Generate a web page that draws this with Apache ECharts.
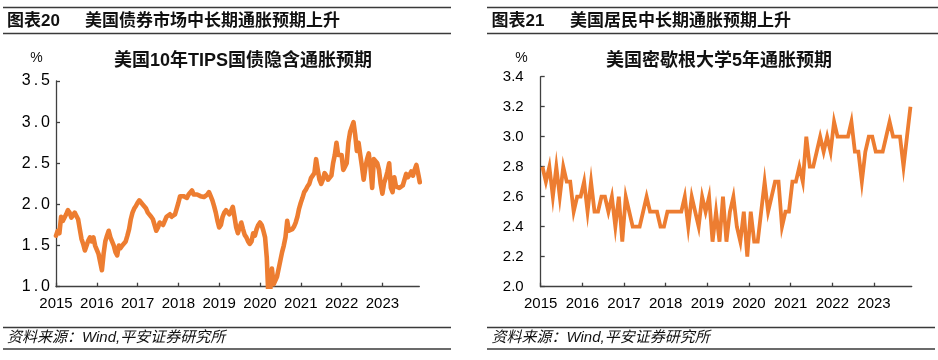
<!DOCTYPE html>
<html><head><meta charset="utf-8">
<script src="https://cdn.jsdelivr.net/npm/echarts@6/dist/echarts.min.js"></script>
<style>html,body{margin:0;padding:0;background:#fff}#c{width:938px;height:360px}</style>
</head><body><div id="c"></div>
<script>
// ---------- data ----------
const years = [2015, 2016, 2017, 2018, 2019, 2020, 2021, 2022, 2023];
const xTickYears = [2015, 2016, 2017, 2018, 2019, 2020, 2021, 2022, 2023];

// 10Y TIPS breakeven (%), two readings per month (1st / 16th)
const tips2015 = [1.62,1.68,1.65,1.85,1.8,1.78,1.88,1.93,1.9,1.84,1.82,1.9,1.88,1.82,1.7,1.58,1.52,1.44,1.5,1.56,1.6,1.55,1.6,1.5];
const tips2016 = [1.52,1.4,1.3,1.2,1.4,1.55,1.62,1.68,1.6,1.58,1.5,1.42,1.38,1.5,1.47,1.5,1.52,1.55,1.62,1.7,1.82,1.9,1.95,1.98];
const tips2017 = [2.02,2.05,2.03,2.0,1.98,1.95,1.9,1.9,1.85,1.82,1.75,1.68,1.72,1.78,1.8,1.75,1.8,1.85,1.85,1.88,1.85,1.86,1.88,1.95];
const tips2018 = [2.02,2.1,2.12,2.1,2.12,2.08,2.12,2.14,2.17,2.12,2.1,2.12,2.11,2.1,2.1,2.09,2.1,2.12,2.15,2.1,2.05,1.98,1.9,1.8];
const tips2019 = [1.72,1.75,1.85,1.9,1.93,1.92,1.88,1.92,1.97,1.85,1.72,1.65,1.72,1.78,1.7,1.63,1.6,1.55,1.52,1.55,1.65,1.62,1.7,1.75];
const tips2020 = [1.78,1.75,1.68,1.6,1.35,0.85,0.95,1.22,1.03,1.05,1.12,1.22,1.32,1.42,1.5,1.6,1.8,1.68,1.67,1.7,1.73,1.78,1.85,1.95];
const tips2021 = [2.02,2.08,2.15,2.18,2.22,2.25,2.32,2.35,2.38,2.55,2.42,2.3,2.25,2.3,2.38,2.35,2.3,2.28,2.35,2.5,2.6,2.75,2.6,2.58];
const tips2022 = [2.6,2.42,2.46,2.5,2.75,2.88,2.94,3.0,2.85,2.65,2.75,2.6,2.46,2.3,2.45,2.55,2.62,2.45,2.2,2.55,2.55,2.5,2.42,2.25];
const tips2023 = [2.13,2.26,2.32,2.4,2.5,2.2,2.15,2.33,2.22,2.2,2.2,2.2,2.23,2.3,2.37,2.33,2.36,2.4,2.35,2.42,2.48,2.38,2.27];

// University of Michigan 5-year inflation expectations (%), monthly
const umich2015 = [2.8,2.7,2.8,2.6,2.8,2.6,2.8,2.7,2.7,2.5,2.6,2.6];
const umich2016 = [2.7,2.5,2.7,2.5,2.5,2.6,2.6,2.5,2.6,2.4,2.6,2.3];
const umich2017 = [2.6,2.5,2.4,2.4,2.4,2.5,2.6,2.5,2.5,2.5,2.4,2.4];
const umich2018 = [2.5,2.5,2.5,2.5,2.5,2.6,2.4,2.6,2.5,2.4,2.6,2.5];
const umich2019 = [2.6,2.3,2.5,2.3,2.6,2.3,2.5,2.6,2.4,2.3,2.5,2.2];
const umich2020 = [2.5,2.3,2.3,2.5,2.7,2.5,2.6,2.7,2.7,2.4,2.5,2.5];
const umich2021 = [2.7,2.7,2.8,2.7,3.0,2.8,2.8,2.9,3.0,2.9,3.0,2.9];
const umich2022 = [3.1,3.0,3.0,3.0,3.0,3.1,2.9,2.9,2.7,2.9,3.0,3.0];
const umich2023 = [2.9,2.9,2.9,3.0,3.1,3.0,3.0,3.0,2.8,3.0,3.2];

const tipsByYear = [tips2015,tips2016,tips2017,tips2018,tips2019,tips2020,tips2021,tips2022,tips2023];
const umichByYear = [umich2015,umich2016,umich2017,umich2018,umich2019,umich2020,umich2021,umich2022,umich2023];

// ---------- build series points (time as decimal year) ----------
function halfMonthPoints(arrs) {
  const out = [];
  arrs.forEach((a, i) => a.forEach((v, k) => out.push([years[i] + k / 24, v])));
  return out;
}
function monthPoints(arrs) {
  const out = [];
  arrs.forEach((a, i) => a.forEach((v, k) => out.push([years[i] + (k + 0.5) / 12, v])));
  return out;
}

const FONT = '"Liberation Sans", "Noto Sans CJK SC", sans-serif';
const AXIS_COLOR = '#404040';
const ORANGE = '#ED7D31';

function xAxisCfg(gi) {
  return {
    type: 'value', gridIndex: gi, min: 2015, max: 2023.905,
    axisLine: { show: true, lineStyle: { color: AXIS_COLOR, width: 1.3 } },
    axisTick: { show: true, inside: true, length: 4, customValues: xTickYears, lineStyle: { color: AXIS_COLOR, width: 1.3 } },
    axisLabel: { customValues: xTickYears, formatter: v => String(Math.round(v)), fontSize: 15, color: '#000', margin: 10, fontFamily: FONT },
    splitLine: { show: false }
  };
}

const chart = echarts.init(document.getElementById('c'), null, { renderer: 'canvas' });

const texts = [
  { t: '图表20', x: 7, y: 21.5, font: 'bold 17px ' + FONT, align: 'left' },
  { t: '美国债券市场中长期通胀预期上升', x: 85, y: 21.5, font: 'bold 17px ' + FONT, align: 'left' },
  { t: '图表21', x: 491.5, y: 21.5, font: 'bold 17px ' + FONT, align: 'left' },
  { t: '美国居民中长期通胀预期上升', x: 570, y: 21.5, font: 'bold 17px ' + FONT, align: 'left' },
  { t: '美国10年TIPS国债隐含通胀预期', x: 243, y: 61.5, font: 'bold 18px ' + FONT, align: 'center' },
  { t: '美国密歇根大学5年通胀预期', x: 719, y: 61.5, font: 'bold 18px ' + FONT, align: 'center' },
  { t: '%', x: 36.5, y: 58, font: '14px ' + FONT, align: 'center' },
  { t: '%', x: 521.5, y: 58, font: '14px ' + FONT, align: 'center' },
  { t: '资料来源：Wind,平安证券研究所', x: 7, y: 338, font: 'italic 15px ' + FONT, align: 'left' },
  { t: '资料来源：Wind,平安证券研究所', x: 491.5, y: 338, font: 'italic 15px ' + FONT, align: 'left' }
];
const lines = [
  [3, 7.5, 451, 7.5], [3, 33.5, 451, 33.5], [3, 327.5, 451, 327.5], [3, 349, 451, 349],
  [487, 7.5, 938, 7.5], [487, 33.5, 938, 33.5], [487, 327.5, 935, 327.5], [487, 349, 935, 349]
];

const graphic = [];
lines.forEach(l => graphic.push({
  type: 'line', silent: true,
  shape: { x1: l[0], y1: l[1], x2: l[2], y2: l[3] },
  style: { stroke: '#3a3a3a', lineWidth: 1.4 }
}));
texts.forEach(t => graphic.push({
  type: 'text', silent: true, x: t.x, y: t.y,
  style: { text: t.t, font: t.font, fill: '#111', textAlign: t.align, textVerticalAlign: 'middle', align: t.align, verticalAlign: 'middle' }
}));

chart.setOption({
  animation: false,
  backgroundColor: '#fff',
  graphic: graphic,
  grid: [
    { left: 56, top: 81, width: 363.3, height: 205.7, containLabel: false },
    { left: 540.7, top: 76.7, width: 371, height: 210, containLabel: false }
  ],
  xAxis: [xAxisCfg(0), xAxisCfg(1)],
  yAxis: [
    {
      type: 'value', gridIndex: 0, min: 1, max: 3.5, interval: 0.5,
      axisLine: { show: true, lineStyle: { color: AXIS_COLOR, width: 1.3 } },
      axisTick: { show: true, inside: true, length: 4, lineStyle: { color: AXIS_COLOR, width: 1.3 } },
      axisLabel: {
        margin: 6, color: '#000', fontSize: 15, fontFamily: FONT,
        formatter: v => { const s = v.toFixed(1); return '{d|' + s[0] + '}{p|.}{d|' + s[2] + '}'; },
        rich: {
          d: { fontSize: 16, fontFamily: FONT, color: '#000' },
          p: { fontSize: 16, fontFamily: FONT, color: '#000', padding: [0, 3, 0, 3] }
        }
      },
      splitLine: { show: false }
    },
    {
      type: 'value', gridIndex: 1, min: 2.0, max: 3.4, interval: 0.2,
      axisLine: { show: true, lineStyle: { color: AXIS_COLOR, width: 1.3 } },
      axisTick: { show: true, inside: true, length: 4, lineStyle: { color: AXIS_COLOR, width: 1.3 } },
      axisLabel: { margin: 17, color: '#000', fontSize: 15, fontFamily: FONT, formatter: v => v.toFixed(1) },
      splitLine: { show: false }
    }
  ],
  series: [
    {
      name: '美国10年TIPS国债隐含通胀预期', type: 'line', xAxisIndex: 0, yAxisIndex: 0,
      data: halfMonthPoints(tipsByYear), showSymbol: false, clip: true,
      lineStyle: { color: ORANGE, width: 4.6, join: 'round', cap: 'round' }, itemStyle: { color: ORANGE }
    },
    {
      name: '美国密歇根大学5年通胀预期', type: 'line', xAxisIndex: 1, yAxisIndex: 1,
      data: monthPoints(umichByYear), showSymbol: false, clip: true,
      lineStyle: { color: ORANGE, width: 3.8, join: 'miter', cap: 'butt' }, itemStyle: { color: ORANGE }
    }
  ]
});
</script>
</body></html>
